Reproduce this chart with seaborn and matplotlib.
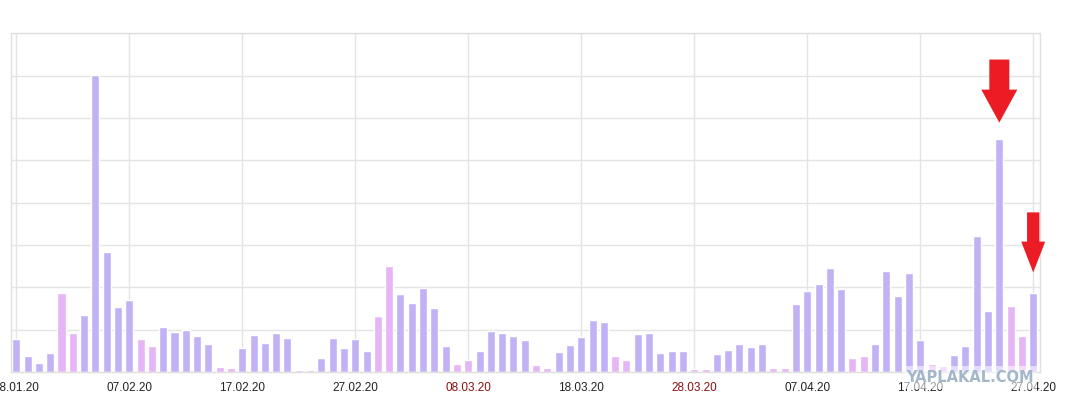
import numpy as np
import pandas as pd
import matplotlib
matplotlib.use("Agg")
import matplotlib.pyplot as plt
import seaborn as sns
from matplotlib.patches import FancyArrow

# ---- data ----
dates = pd.date_range("2020-01-28", "2020-04-27", freq="D")
values = [
    7.8, 3.8, 2.1, 4.5,                                   # 28.01 - 31.01
    18.7, 9.3, 13.5, 70.2, 28.4, 15.4, 17.0, 7.8, 6.1,    # 01.02 - 09.02
    10.6, 9.5, 9.9, 8.5, 6.6, 1.2, 0.9,                   # 10.02 - 16.02
    5.7, 8.7, 6.9, 9.2, 8.0, 0.5, 0.5,                    # 17.02 - 23.02
    3.3, 8.0, 5.7, 7.8, 5.0, 13.2,                        # 24.02 - 29.02
    25.1, 18.4, 16.3, 19.9, 15.1, 6.1, 1.9, 2.8,          # 01.03 - 08.03
    5.0, 9.7, 9.2, 8.5, 7.6, 1.7, 0.9,                    # 09.03 - 15.03
    4.7, 6.4, 8.3, 12.3, 11.8, 3.8, 2.8,                  # 16.03 - 22.03
    9.0, 9.2, 4.5, 5.0, 5.0, 0.7, 0.7,                    # 23.03 - 29.03
    4.3, 5.2,                                             # 30.03 - 31.03
    6.6, 5.9, 6.6, 0.9, 0.9,                              # 01.04 - 05.04
    16.1, 19.1, 20.8, 24.6, 19.6, 3.3, 3.8,               # 06.04 - 12.04
    6.6, 23.9, 18.0, 23.4, 7.6, 1.9, 1.4,                 # 13.04 - 19.04
    4.0, 6.1, 32.2, 14.4, 55.1, 15.6, 8.5,                # 20.04 - 26.04
    18.7,                                                 # 27.04
]
tick_labels = ["28.01.20", "07.02.20", "17.02.20", "27.02.20", "08.03.20",
               "18.03.20", "28.03.20", "07.04.20", "17.04.20", "27.04.20"]
tick_colors = ["#222222", "#222222", "#222222", "#222222", "#8b1111",
               "#222222", "#8b1111", "#222222", "#222222", "#222222"]
marked_days = ["24.04.20", "27.04.20"]

day_type = ["weekend" if d.dayofweek >= 5 else "weekday" for d in dates]
date_str = [d.strftime("%d.%m.%y") for d in dates]

df = pd.DataFrame({"pos": np.arange(len(dates)), "value": values, "type": day_type})

sns.set_theme(style="white")
plt.rcParams["font.family"] = ["Liberation Sans", "DejaVu Sans"]

W, H = 1065, 407
fig = plt.figure(figsize=(W / 100, H / 100), dpi=100)
fig.patch.set_facecolor("white")
ax = fig.add_axes([11 / W, (H - 372) / H, (1040 - 11) / W, (372 - 33.3) / H])

sns.barplot(data=df, x="pos", y="value", hue="type",
            palette={"weekday": "#c2b2f5", "weekend": "#e6b5f5"},
            dodge=False, width=0.71, saturation=1, errorbar=None,
            legend=False, ax=ax, zorder=2)

ax.set_xlim(-0.47, 90.6)
ax.set_ylim(0, 80)
ax.set_yticks(np.arange(0, 81, 10))
ax.set_yticklabels([])
ax.tick_params(axis="y", length=0)
ax.set_xticks(np.arange(0, len(dates), 10))
ax.set_xticklabels(tick_labels)
ax.tick_params(axis="x", length=0, pad=7.5, labelsize=8.5)
for lab, c in zip(ax.get_xticklabels(), tick_colors):
    lab.set_color(c)
ax.set_xlabel("")
ax.set_ylabel("")
ax.set_axisbelow(True)
ax.grid(True, color="#e4e4e4", lw=1)
for s in ax.spines.values():
    s.set_color("#e0e0e0")
    s.set_linewidth(1)

# red arrows pointing at marked days
arrow_specs = [(marked_days[0], 3.8, 14.9, 1.77, 3.19, 7.8),
               (marked_days[1], 4.8, 14.2, 1.09, 2.12, 7.3)]
for day, gap, length, w, hw, hl in arrow_specs:
    i = date_str.index(day)
    tip = values[i] + gap
    arr = FancyArrow(i, tip + length, 0, -length, width=w, head_width=hw,
                     head_length=hl, length_includes_head=True,
                     color="#ec1c24", lw=0, clip_on=False, zorder=5)
    ax.add_patch(arr)

# watermark
fig.text(970 / W, 1 - 377.5 / H, "YAPLAKAL.COM", ha="center", va="center",
         fontsize=10.5, fontweight="bold", color="#a3b6ca",
         family=["DejaVu Sans"],
         bbox=dict(facecolor="white", alpha=0.55, edgecolor="none",
                   boxstyle="square,pad=0.25"))

fig.savefig("out.png", dpi=100)
